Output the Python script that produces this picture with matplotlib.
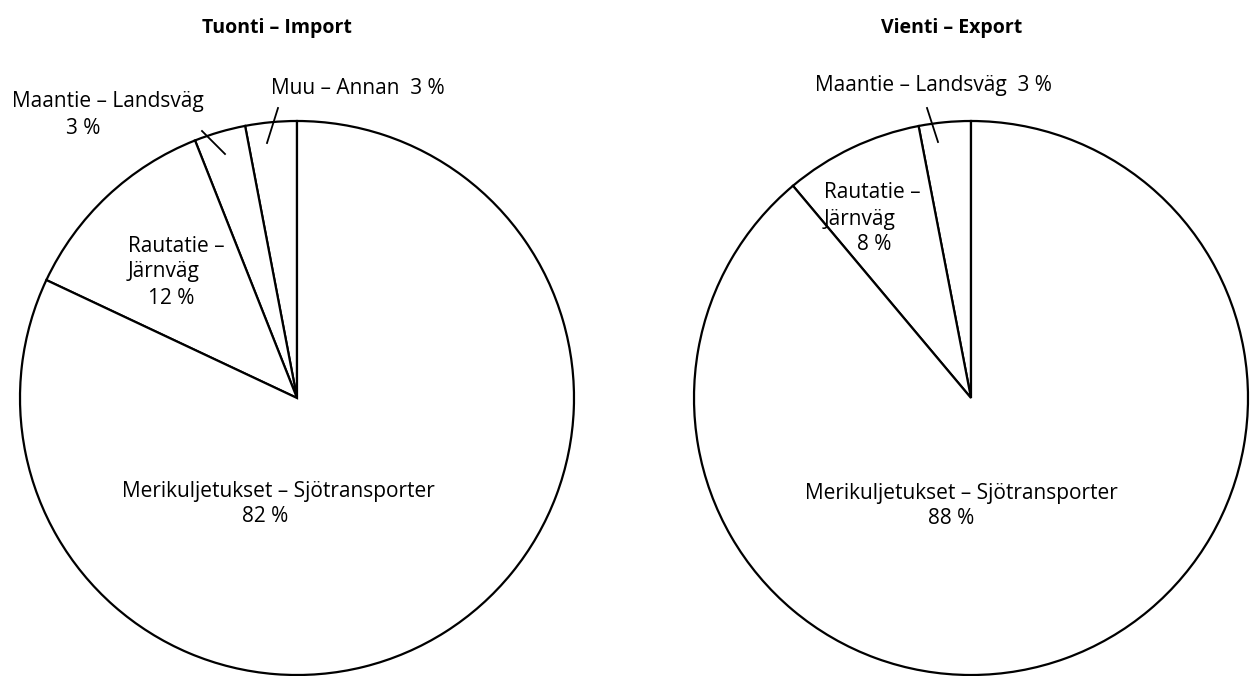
import matplotlib
matplotlib.use("Agg")
import matplotlib.pyplot as plt

W, H = 1255, 676

# Data
import_labels = ["Muu – Annan", "Maantie – Landsväg", "Rautatie – Järnväg", "Merikuljetukset – Sjötransporter"]
import_values = [3, 3, 12, 82]
export_labels = ["Maantie – Landsväg", "Rautatie – Järnväg", "Merikuljetukset – Sjötransporter"]
export_values = [3, 8, 88]
titles = ["Tuonti – Import", "Vienti – Export"]

plt.rcParams['font.family'] = ['Open Sans', 'DejaVu Sans']

fig = plt.figure(figsize=(W / 100, H / 100), dpi=100)
ax = fig.add_axes([0, 0, 1, 1])

def Y(y):
    return H - y

wp = dict(facecolor='white', edgecolor='black', linewidth=1.6)
ax.pie(import_values, startangle=90, counterclock=True, center=(297, Y(398)),
       radius=277, wedgeprops=wp)
ax.pie(export_values, startangle=90, counterclock=True, center=(971, Y(398)),
       radius=277, wedgeprops=wp)
ax.set_xlim(0, W)
ax.set_ylim(0, H)
ax.set_aspect('equal')
ax.axis('off')

fs = 15
# Titles
ax.text(277, Y(28), titles[0], ha='center', va='center', fontsize=14, fontweight='bold')
ax.text(952, Y(28), titles[1], ha='center', va='center', fontsize=14, fontweight='bold')

# Import labels
ax.text(358, Y(89), f"{import_labels[0]}  {import_values[0]} %", ha='center', va='center', fontsize=fs)
ax.plot([278, 267], [Y(108), Y(143)], color='black', lw=1.3)
ax.text(108, Y(101), import_labels[1], ha='center', va='center', fontsize=fs)
ax.text(83, Y(129), f"{import_values[1]} %", ha='center', va='center', fontsize=fs)
ax.plot([202, 225], [Y(131), Y(154)], color='black', lw=1.3)
ax.text(128, Y(246), "Rautatie –", ha='left', va='center', fontsize=fs)
ax.text(128, Y(272), "Järnväg", ha='left', va='center', fontsize=fs)
ax.text(171, Y(298), f"{import_values[2]} %", ha='center', va='center', fontsize=fs)
ax.text(278, Y(491), import_labels[3], ha='center', va='center', fontsize=fs)
ax.text(265, Y(517), f"{import_values[3]} %", ha='center', va='center', fontsize=fs)

# Export labels
ax.text(933, Y(86), f"{export_labels[0]}  {export_values[0]} %", ha='center', va='center', fontsize=fs)
ax.plot([927, 938], [Y(108), Y(142)], color='black', lw=1.3)
ax.text(824, Y(193), "Rautatie –", ha='left', va='center', fontsize=fs)
ax.text(824, Y(219), "Järnväg", ha='left', va='center', fontsize=fs)
ax.text(874, Y(245), f"{export_values[1]} %", ha='center', va='center', fontsize=fs)
ax.text(961, Y(494), export_labels[2], ha='center', va='center', fontsize=fs)
ax.text(951, Y(519), f"{export_values[2]} %", ha='center', va='center', fontsize=fs)

fig.savefig("out.png", dpi=100, facecolor='white')
